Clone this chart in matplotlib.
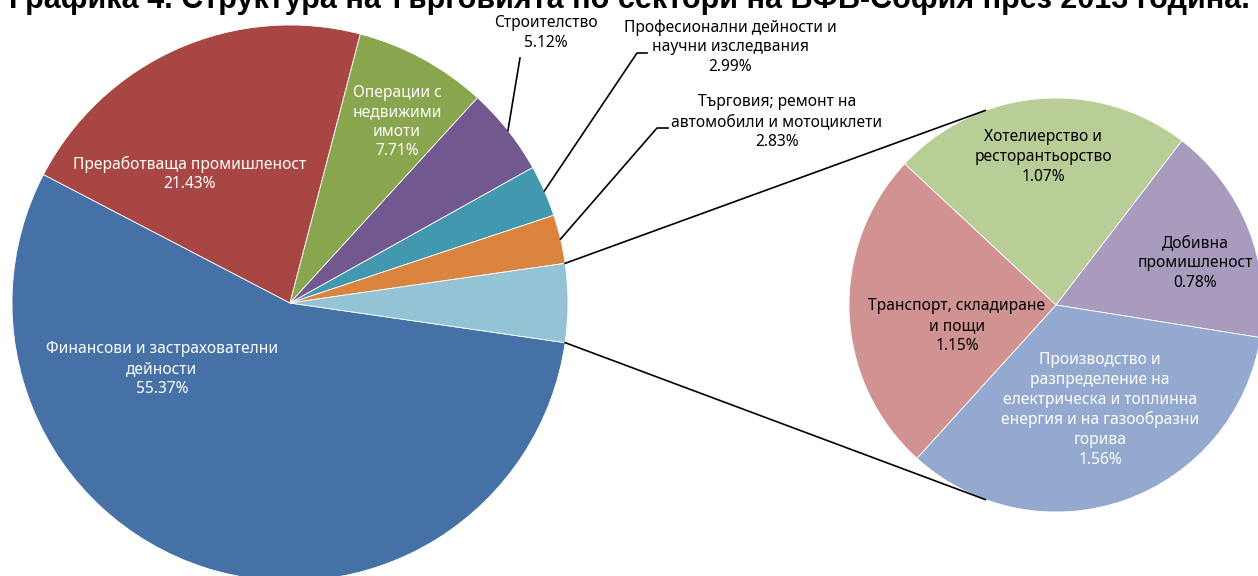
import numpy as np
import matplotlib.pyplot as plt

# main pie data (clockwise, Excel pie-of-pie)
main_labels = ['Финансови и застрахователни\nдейности', 'Преработваща промишленост',
               'Операции с\nнедвижими\nимоти', 'Строителство',
               'Професионални дейности и\nнаучни изследвания',
               'Търговия; ремонт на\nавтомобили и мотоциклети']
main_vals = [55.37, 21.43, 7.71, 5.12, 2.99, 2.83]
main_colors = ['#4571A7', '#A84644', '#89A54E', '#71588F', '#4198AF', '#DB843D', '#93C3D5']

# secondary pie data
sec_labels = ['Хотелиерство и\nресторантьорство', 'Добивна\nпромишленост',
              'Производство и\nразпределение на\nелектрическа и топлинна\nенергия и на газообразни\nгорива',
              'Транспорт, складиране\nи пощи']
sec_vals = [1.07, 0.78, 1.56, 1.15]
sec_colors = ['#B9CD96', '#A99BBD', '#93A9CF', '#D19392']

title = 'Графика 4. Структура на търговията по сектори на БФБ-София през 2013 година.'

W, H = 1258, 576
fig = plt.figure(figsize=(W / 100, H / 100), dpi=100)
ax = fig.add_axes([0, 0, 1, 1])

plt.rcParams['font.family'] = ['Noto Sans', 'DejaVu Sans']

other = sum(sec_vals)
vals = main_vals + [other]
c1, r1 = (290, H - 303), 278
c2, r2 = (1056, H - 305), 207

start = -other / sum(vals) * 360 / 2
w1, _ = ax.pie(vals, colors=main_colors, startangle=start, counterclock=False,
               center=c1, radius=r1, frame=True,
               wedgeprops=dict(edgecolor='white', linewidth=0.6))
w2, _ = ax.pie(sec_vals, colors=sec_colors, startangle=137, counterclock=False,
               center=c2, radius=r2, frame=True,
               wedgeprops=dict(edgecolor='white', linewidth=0.6))
ax.set_xlim(0, W)
ax.set_ylim(0, H)
ax.set_aspect('equal')
ax.axis('off')


def edge_pt(c, r, ang):
    a = np.deg2rad(ang)
    return c[0] + r * np.cos(a), c[1] + r * np.sin(a)


# connector lines between the pies
ow = w1[-1]
for a1, a2 in [(ow.theta2, 110), (ow.theta1, -110)]:
    p = edge_pt(c1, r1, a1)
    q = edge_pt(c2, r2, a2)
    ax.plot([p[0], q[0]], [p[1], q[1]], color='black', lw=1.2)

fs = 11.2
# labels inside main pie
inside = [(0, 162, 369), (1, 190, 174), (2, 397, 122)]
for i, x, y in inside:
    ax.text(x, H - y, f'{main_labels[i]}\n{main_vals[i]:.2f}%', ha='center', va='center',
            color='white', fontsize=fs, linespacing=1.3)

# outside labels with leader lines: (index, text x, text y, elbow points)
outside = [(3, 546, 33, [(520, 58)]),
           (4, 730, 47, [(637, 53), (647, 53)]),
           (5, 777, 122, [(657, 128), (668, 128)])]
for i, x, y, pts in outside:
    ax.text(x, H - y, f'{main_labels[i]}\n{main_vals[i]:.2f}%', ha='center', va='center',
            color='black', fontsize=fs, linespacing=1.3)
    w = w1[i]
    p = edge_pt(c1, r1, (w.theta1 + w.theta2) / 2)
    xs = [p[0]] + [q[0] for q in pts]
    ys = [p[1]] + [H - q[1] for q in pts]
    ax.plot(xs, ys, color='black', lw=1.2)

# secondary pie labels
sec_pos = [(1043, 157, 'black'), (1195, 263, 'black'), (1100, 410, 'white'), (957, 326, 'black')]
for lab, v, (x, y, col) in zip(sec_labels, sec_vals, sec_pos):
    ax.text(x, H - y, f'{lab}\n{v:.2f}%', ha='center', va='center', color=col,
            fontsize=fs, linespacing=1.3)

# title is partly cut at the top edge, as in the source image
ax.text(W / 2, H - 8, title, ha='center', va='baseline', fontsize=22,
        fontweight='bold', family=['Liberation Sans', 'DejaVu Sans'])

fig.savefig('out.png', dpi=100)
